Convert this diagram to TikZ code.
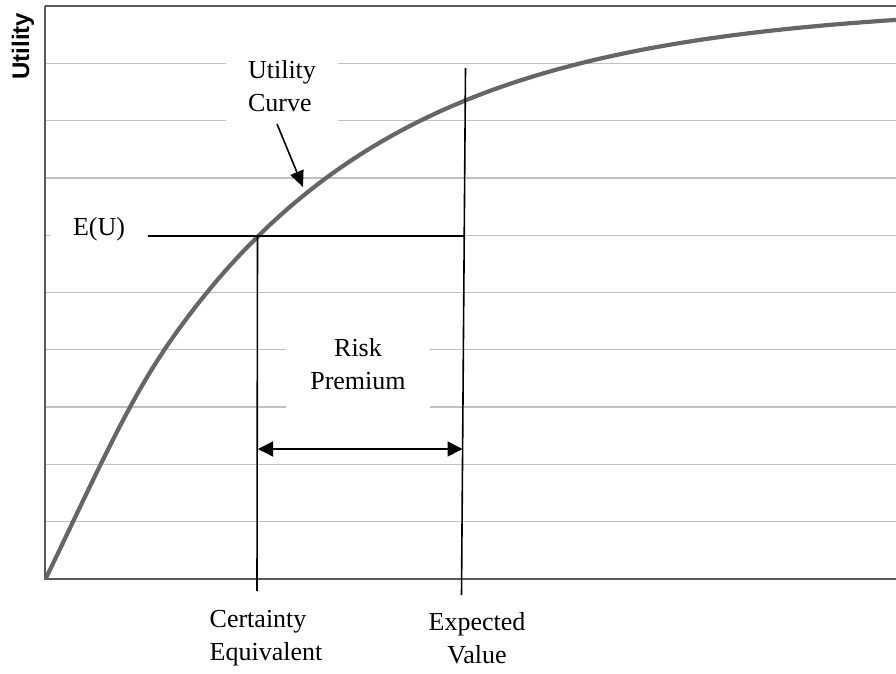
\documentclass[tikz,border=0pt]{standalone}
\usepackage{fontspec}
\setmainfont{Liberation Serif}
\newfontfamily\axisfont{Liberation Sans}
\usetikzlibrary{arrows.meta}

\definecolor{gridgray}{HTML}{C0C0C0}
\definecolor{axisgray}{HTML}{595959}
\definecolor{curvegray}{HTML}{666666}

\begin{document}
\begin{tikzpicture}[x=1pt, y=-1pt,
  gridline/.style={draw=gridgray, line width=1.3pt},
  axisline/.style={draw=axisgray, line width=1.8pt},
  ucurve/.style={draw=curvegray, line width=4.2pt, line cap=round, line join=round},
  guide/.style={draw=black, line width=1.6pt},
  tag/.style={font=\fontsize{26}{33}\selectfont, inner sep=0pt},
  blank/.style={tag, fill=white},
  pointer/.style={guide, -{Triangle[length=16pt,width=14pt]}},
  span/.style={guide, {Triangle[length=15pt,width=15pt]}-{Triangle[length=15pt,width=15pt]}}]

\useasboundingbox (0,0) rectangle (896,673);

% horizontal grid
\foreach \g in {63.3,120.6,177.9,235.2,292.5,349.8,407.1,464.4,521.7}
  \draw[gridline] (45,\g) -- (896,\g);

% frame: top border, utility axis and wealth axis
\draw[axisline] (45,6) -- (896,6);
\draw[axisline] (45,6) -- (45,579) -- (896,579);

% axis title
\node[font=\axisfont\bfseries\fontsize{24}{28}\selectfont, rotate=90, inner sep=0pt]
  (ytitle) at (23,46) {Utility};

% labels with white backing that interrupts the grid
\node[blank, align=left, minimum width=112pt, minimum height=90pt]
  (uclabel) at (282,86) {Utility\\Curve};
\node[blank, align=center, minimum width=144pt, minimum height=130pt]
  (rplabel) at (358,364) {Risk\\Premium};
\node[blank, minimum width=98pt, minimum height=36pt]
  (eulabel) at (99,229) {E(U)};

% concave utility function: nearly straight rise from the origin,
% then a saturating exponential A (1 - exp(-w/s))
\draw[ucurve] (46,578) .. controls (85,498) and (124,409.6) .. (163,352)
  -- plot[domain=163:896, samples=120, smooth]
     (\x, {578 - 573.4*(1 - exp(-(\x-45)/235))});

% reference points
\coordinate (eu-start) at (148,236);
\coordinate (eu-end)   at (465,236);
\coordinate (ce-top)   at (257.5,236);
\coordinate (ce-bot)   at (257,591);
\coordinate (ev-top)   at (465.5,68);
\coordinate (ev-bot)   at (461.5,595);
\coordinate (rp-left)  at (258,449);
\coordinate (rp-right) at (462.5,449);
\coordinate (uc-tail)  at (277,124);
\coordinate (uc-tip)   at (303,187);

% guide lines
\draw[guide] (eu-start) -- (eu-end);
\draw[guide] (ce-top) -- (ce-bot);
\draw[guide] (ev-top) -- (ev-bot);

% arrows
\draw[pointer] (uc-tail) -- (uc-tip);
\draw[span] (rp-left) -- (rp-right);

% wealth-axis labels
\node[tag, align=left] (celabel) at (266,638.5) {Certainty\\Equivalent};
\node[tag, align=center] (evlabel) at (477,638) {Expected\\Value};

\end{tikzpicture}
\end{document}
